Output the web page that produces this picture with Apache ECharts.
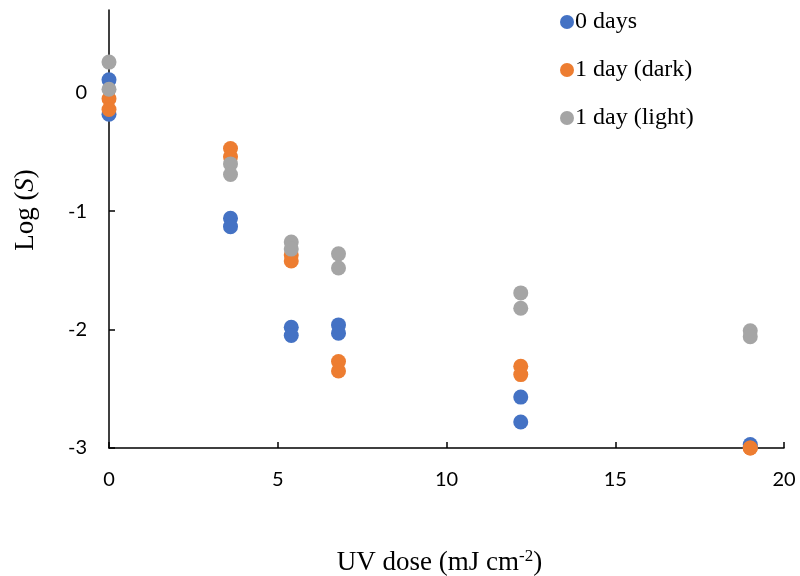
<!DOCTYPE html>
<html>
<head>
<meta charset="utf-8">
<script src="https://cdn.jsdelivr.net/npm/echarts@6/dist/echarts.min.js"></script>
<style>html,body{margin:0;padding:0;background:#fff;}#c{width:800px;height:576px;}</style>
</head>
<body>
<div id="c"></div>
<script>
// UV dose (mJ cm-2) for each replicate point
const doses = [0, 0, 3.6, 3.6, 5.4, 5.4, 6.8, 6.8, 12.2, 12.2, 19.0, 19.0];
// Log(S) values per series
const days0 = [0.11, -0.18, -1.06, -1.13, -1.98, -2.05, -1.96, -2.03, -2.57, -2.78, -2.97, -2.99];
const day1Dark = [-0.05, -0.14, -0.47, -0.54, -1.37, -1.42, -2.27, -2.35, -2.31, -2.38, -3.0, -3.0];
const day1Light = [0.26, 0.03, -0.60, -0.69, -1.26, -1.32, -1.36, -1.48, -1.69, -1.82, -2.01, -2.06];
const seriesNames = ['0 days', '1 day (dark)', '1 day (light)'];
const colors = ['#4472C4', '#ED7D31', '#A5A5A5'];
const yTicks = [-3, -2, -1, 0];
const xTicks = [0, 5, 10, 15, 20];

const pair = v => doses.map((d, i) => [d, v[i]]);
const chart = echarts.init(document.getElementById('c'));
const serif = '"Liberation Serif", "Times New Roman", serif';
const sans = 'Lato, "Open Sans", sans-serif';
chart.setOption({
  animation: false,
  color: colors,
  grid: { left: 109, right: 16, top: 10, bottom: 128, containLabel: false, outerBoundsMode: 'none' },
  legend: {
    orient: 'vertical',
    left: 555, top: 5,
    itemWidth: 14, itemHeight: 14, itemGap: 24,
    icon: 'circle',
    textStyle: { fontFamily: serif, fontSize: 24, color: '#000', lineHeight: 24, padding: [0, 0, 0, -4] },
    data: seriesNames
  },
  xAxis: {
    type: 'value', min: 0, max: 20, interval: 5,
    name: '{m|UV dose (mJ cm}{s|-2}{m|)}',
    nameLocation: 'middle', nameGap: 98,
    nameTextStyle: {
      padding: [0, 14, 0, 0],
      rich: {
        m: { fontFamily: serif, fontSize: 27, color: '#000', lineHeight: 30, verticalAlign: 'bottom' },
        s: { fontFamily: serif, fontSize: 17, color: '#000', lineHeight: 30, verticalAlign: 'top', padding: [2, 0, 0, 0] }
      }
    },
    axisLine: { onZero: false, lineStyle: { color: '#000', width: 1.5 } },
    axisTick: { inside: true, length: 6, lineStyle: { color: '#000', width: 1.5 }, customValues: xTicks },
    axisLabel: { fontFamily: sans, fontSize: 20, color: '#000', margin: 22, customValues: xTicks },
    splitLine: { show: false }
  },
  yAxis: {
    type: 'value', min: -3, max: 0.7, interval: 1,
    name: '{m|Log (}{i|S}{m|)}',
    nameLocation: 'middle', nameRotate: 90, nameGap: 70,
    nameTextStyle: {
      padding: [0, 0, 0, 38],
      rich: {
        m: { fontFamily: serif, fontSize: 27, color: '#000' },
        i: { fontFamily: serif, fontSize: 27, color: '#000', fontStyle: 'italic' }
      }
    },
    axisLine: { onZero: false, lineStyle: { color: '#000', width: 1.5 } },
    axisTick: { inside: true, length: 6, lineStyle: { color: '#000', width: 1.5 }, customValues: yTicks },
    axisLabel: { fontFamily: sans, fontSize: 20, color: '#000', margin: 22, customValues: yTicks },
    splitLine: { show: false }
  },
  series: [days0, day1Dark, day1Light].map((v, k) => ({
    name: seriesNames[k],
    type: 'scatter',
    symbol: 'circle',
    symbolSize: 15,
    clip: false,
    itemStyle: { color: colors[k], opacity: 1 },
    data: pair(v)
  }))
});
</script>
</body>
</html>
